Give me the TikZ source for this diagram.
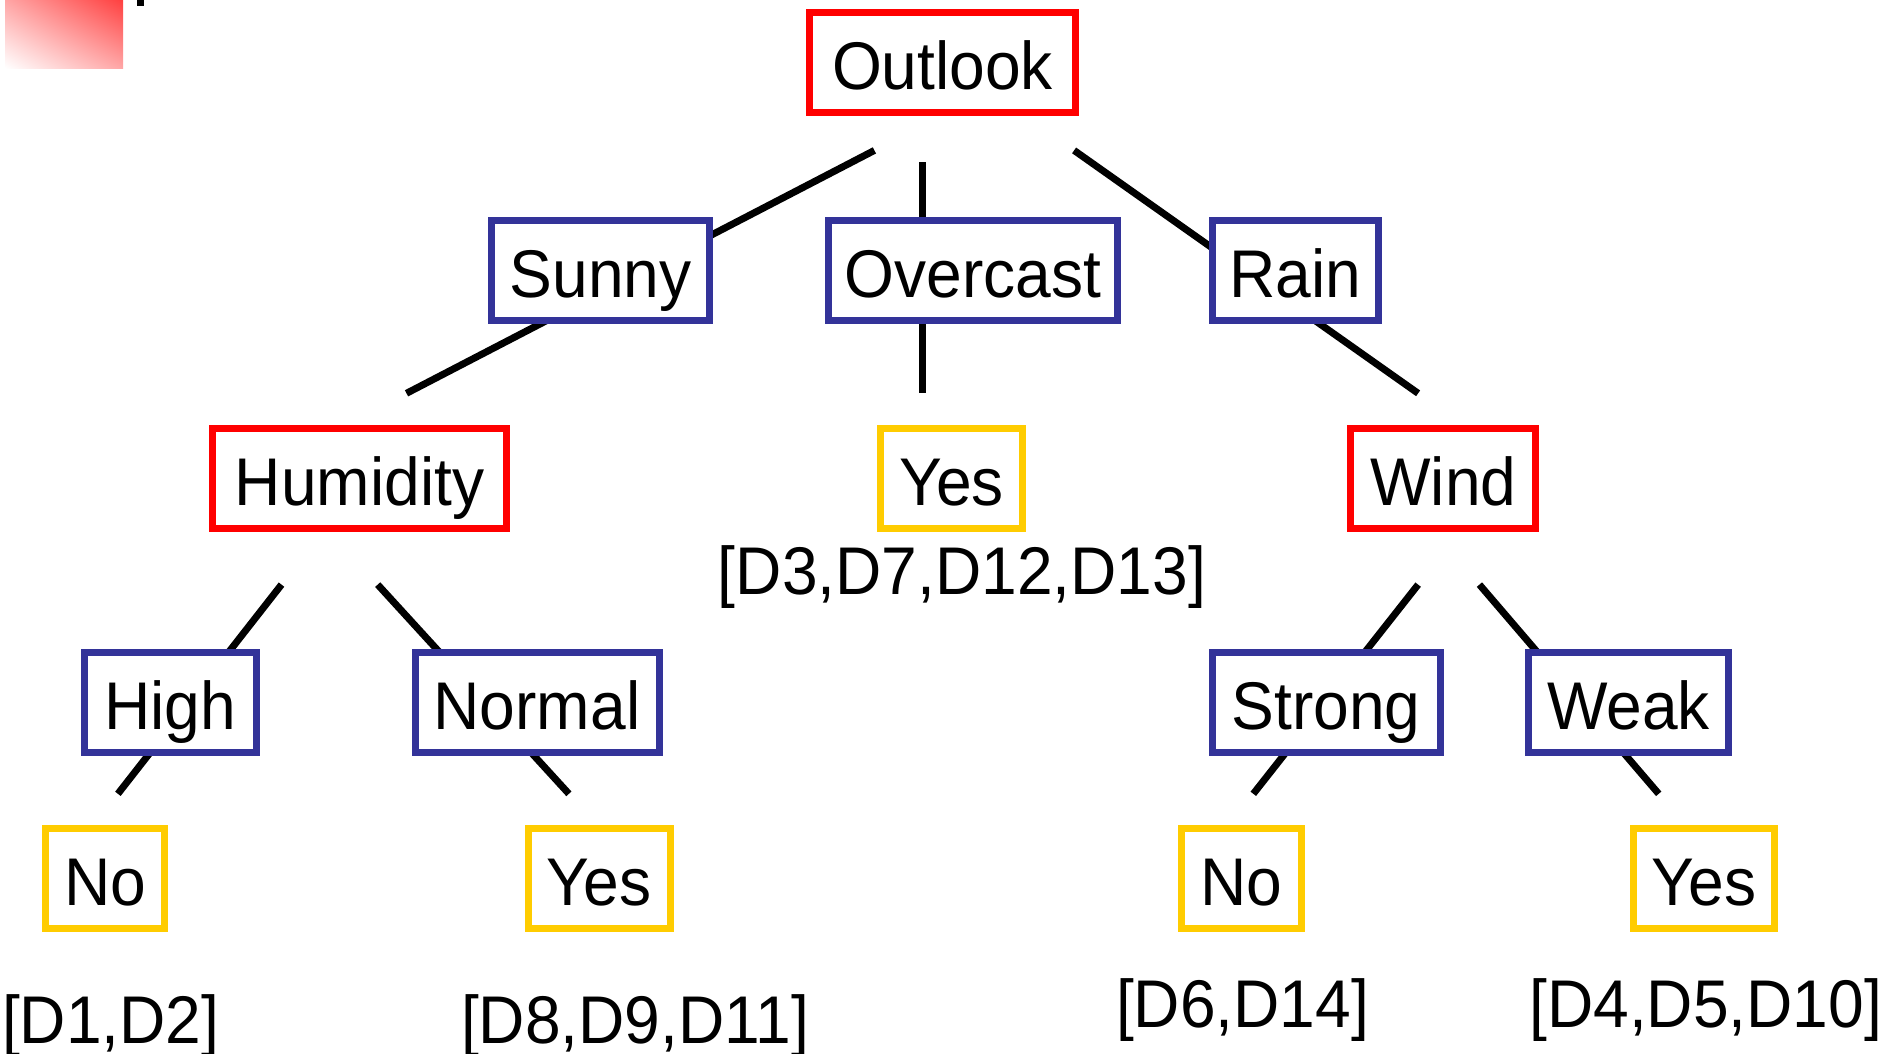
\documentclass[tikz,border=0pt]{standalone}
\usepackage{fontspec}
\setmainfont[FakeStretch=0.95]{Liberation Sans}
\usepackage{tikz}
\usetikzlibrary{calc,shadings}
\definecolor{attrred}{RGB}{255,0,0}
\definecolor{valblue}{RGB}{51,51,153}
\definecolor{leafyellow}{RGB}{255,204,0}

\begin{document}
\begin{tikzpicture}[
    attr/.style = {draw=attrred, line width=0.07cm, fill=white, minimum height=1.0cm, inner sep=0pt, text height=0.54cm, text depth=0pt, font=\fontsize{19.2}{23}\selectfont},
    val/.style = {attr, draw=valblue},
    leaf/.style = {attr, draw=leafyellow},
    ex/.style = {inner sep=0pt, font=\fontsize{19.2}{23}\selectfont},
    branch/.style = {line width=0.07cm}
  ]
            \useasboundingbox (0,0) rectangle (18.86,-10.53);
            \shade[lower left=white, upper right=red!75, upper left=red!35, lower right=red!35] (0.05,0) rectangle (1.23,-0.68);
            \fill (1.37,0) rectangle (1.44,-0.06);

            \coordinate (s1) at (8.744,-1.504); \coordinate (s2) at (4.065,-3.933);
            \coordinate (o1) at (9.225,-1.624); \coordinate (o2) at (9.225,-3.933);
            \coordinate (r1) at (10.741,-1.504); \coordinate (r2) at (14.181,-3.933);
            \coordinate (h1) at (2.815,-5.846); \coordinate (h2) at (1.179,-7.938);
            \coordinate (n1) at (3.777,-5.846); \coordinate (n2) at (5.689,-7.938);
            \coordinate (w1) at (14.181,-5.846); \coordinate (w2) at (12.533,-7.938);
            \coordinate (k1) at (14.794,-5.846); \coordinate (k2) at (16.587,-7.938);

            \draw[branch] (s1) -- (s2);
            \draw[branch] (o1) -- (o2);
            \draw[branch] (r1) -- (r2);
            \draw[branch] (h1) -- (h2);
            \draw[branch] (n1) -- (n2);
            \draw[branch] (w1) -- (w2);
            \draw[branch] (k1) -- (k2);

            \node[attr, minimum width=2.66cm] (outlook) at (9.425,-0.625) {Outlook};
            \node[val, minimum width=2.18cm] (sunny) at (6.008,-2.706) {Sunny};
            \node[val, minimum width=2.89cm] (overcast) at (9.731,-2.706) {Overcast};
            \node[val, minimum width=1.66cm] (rain) at (12.954,-2.706) {Rain};
            \node[attr, minimum width=2.94cm] (humidity) at (3.596,-4.781) {Humidity};
            \node[leaf, minimum width=1.42cm] (yesmid) at (9.514,-4.781) {Yes};
            \node[attr, minimum width=1.85cm] (wind) at (14.434,-4.781) {Wind};
            \node[val, minimum width=1.72cm] (high) at (1.702,-7.024) {High};
            \node[val, minimum width=2.44cm] (normal) at (5.370,-7.024) {Normal};
            \node[val, minimum width=2.28cm] (strong) at (13.261,-7.024) {Strong};
            \node[val, minimum width=2.00cm] (weak) at (16.286,-7.024) {Weak};
            \node[leaf, minimum width=1.19cm] (nohigh) at (1.052,-8.780) {No};
            \node[leaf, minimum width=1.42cm] (yesnormal) at (5.990,-8.780) {Yes};
            \node[leaf, minimum width=1.20cm] (nostrong) at (12.413,-8.780) {No};
            \node[leaf, minimum width=1.41cm] (yesweak) at (17.038,-8.780) {Yes};

            \node[ex] (dmid) at (9.62,-5.77) {[D3,D7,D12,D13]};
            \node[ex] (dhigh) at (1.107,-10.26) {[D1,D2]};
            \node[ex] (dnormal) at (6.35,-10.26) {[D8,D9,D11]};
            \node[ex] (dstrong) at (12.425,-10.10) {[D6,D14]};
            \node[ex] (dweak) at (17.056,-10.10) {[D4,D5,D10]};
\end{tikzpicture}
\end{document}
